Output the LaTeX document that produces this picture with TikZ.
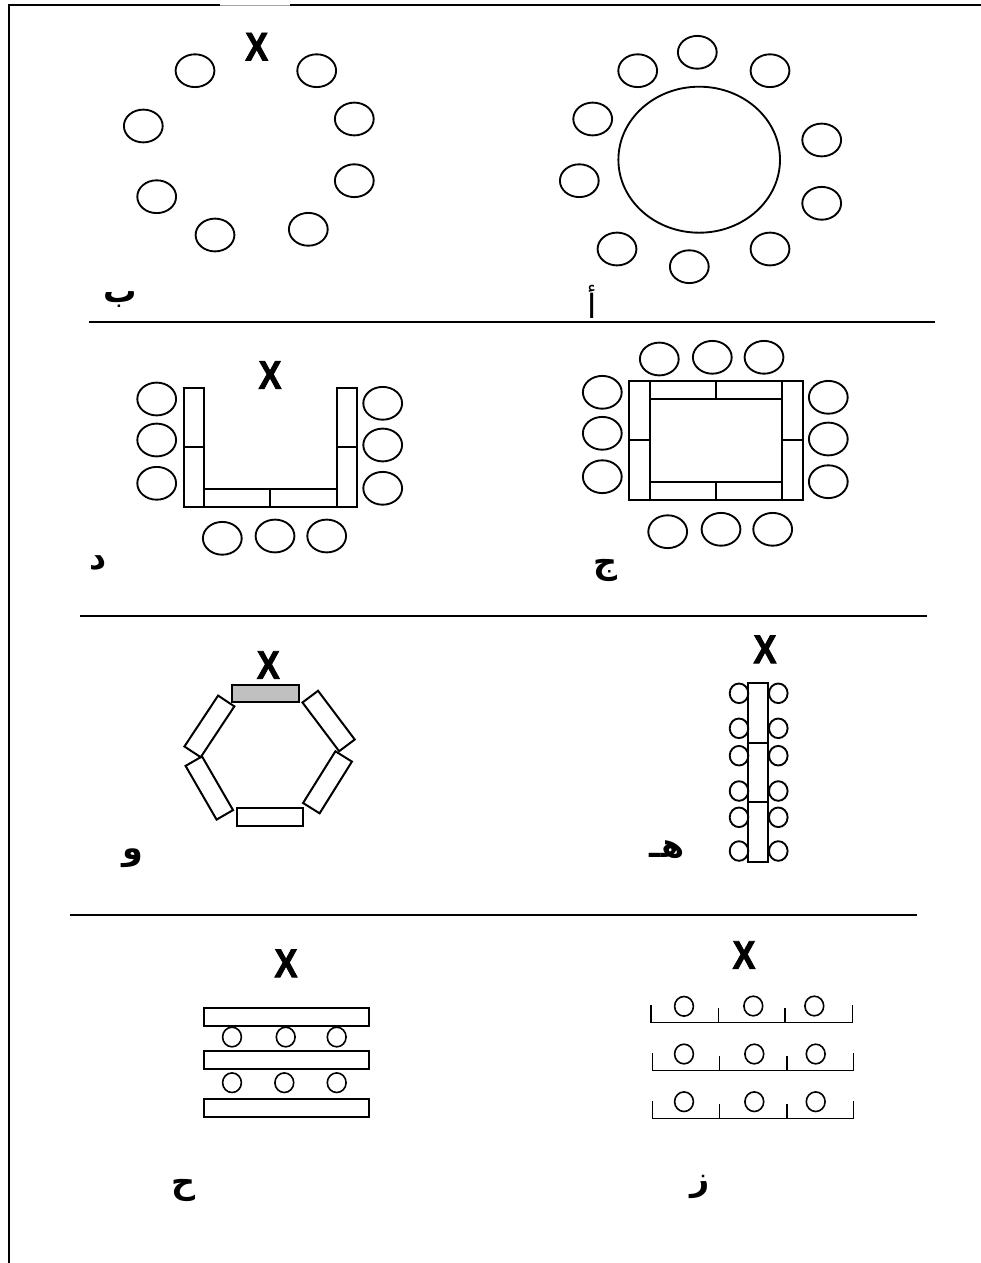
\documentclass[tikz,border=0pt]{standalone}
\usepackage{fontspec}
\usepackage{graphicx}
\setmainfont{Liberation Sans}
\newfontfamily\xfont[FakeBold=2.2]{Liberation Sans Bold}
\newfontfamily\arabicfont[Script=Arabic]{DejaVu Sans}
\TeXXeTstate=1
\definecolor{hexgray}{HTML}{C0C0C0}
\tikzset{
  seatline/.style={line width=1.4pt},
  tableline/.style={line width=1.5pt},
  thinline/.style={line width=1.2pt},
  sepline/.style={line width=1.5pt},
  xlabel/.style={inner sep=0pt, font=\xfont\fontsize{30pt}{30pt}\selectfont},
  arlabel/.style={inner sep=0pt, font=\arabicfont\bfseries\fontsize{25pt}{30pt}\selectfont}
}
\newcommand{\myseat}[2]{\draw[seatline] (#1,#2) ellipse [x radius=19.4, y radius=16.4];}
\newcommand{\mysmall}[2]{\draw[thinline] (#1,#2) ellipse [x radius=9.4, y radius=9.8];}
\newcommand{\myrow}[5]{% baseline, x0,x1,x2,x3
  \draw[thinline] (#2,#1-17) -- (#2,#1) -- (#5,#1) -- (#5,#1-17);
  \draw[thinline] (#3,#1-14) -- (#3,#1);
  \draw[thinline] (#4,#1-14) -- (#4,#1);
}
\begin{document}
\begin{tikzpicture}[x=0.75pt,y=-0.75pt]
\useasboundingbox (0,0) rectangle (981,1263);
% border
\draw[sepline] (9,1263) -- (9,5) -- (220,5);
\draw[line width=0.6pt, black!35] (220,5) -- (290,5);
\draw[sepline] (290,5) -- (981,5);
% separators
\draw[sepline] (89,322) -- (935,322);
\draw[sepline] (80,615.5) -- (927,615.5);
\draw[sepline] (70,915) -- (917,915);

% ---------- panel b (top left)
\node[xlabel] (xb) at (256.7,46.7) {\scalebox{0.86}[1]{X}};
\myseat{195}{70.7}
\myseat{316.7}{70.7}
\myseat{143.3}{126}
\myseat{354.3}{119}
\myseat{156.7}{196.7}
\myseat{354.3}{180.7}
\myseat{215}{235}
\myseat{308.3}{229.3}
\node[arlabel] (lb) at (120,300) {\beginR ب\endR};

% ---------- panel a (top right)
\draw[seatline] (699.2,159.7) ellipse [x radius=80.8, y radius=73];
\myseat{637.7}{70.7}
\myseat{697.3}{52.3}
\myseat{770}{70.7}
\myseat{592.7}{119}
\myseat{821.7}{140}
\myseat{579.3}{180.7}
\myseat{821.7}{203.3}
\myseat{617}{249}
\myseat{770}{249}
\myseat{689.3}{266.7}
\node[arlabel, font=\arabicfont\fontsize{25pt}{30pt}\selectfont] (la) at (591.7,301.7) {\beginR أ\endR};

% ---------- panel d (U shape)
\node[xlabel] (xd) at (270,375) {\scalebox{0.86}[1]{X}};
\draw[tableline] (184,387.7) rectangle (204,507.3);
\draw[tableline] (336.7,387.7) rectangle (356.7,507.3);
\draw[tableline] (204,489) rectangle (336.7,507.3);
\draw[tableline] (184,447) -- (204,447);
\draw[tableline] (336.7,447) -- (356.7,447);
\draw[tableline] (270,489) -- (270,507.3);
\myseat{156.7}{399}
\myseat{156.7}{440}
\myseat{156.7}{483.3}
\myseat{382.7}{403.3}
\myseat{382.7}{445}
\myseat{382.7}{488.3}
\myseat{222.3}{538.3}
\myseat{275}{536}
\myseat{326.7}{536}
\node[arlabel] (ld) at (98.3,563.3) {\beginR د\endR};

% ---------- panel j (rectangle)
\draw[tableline] (629.3,381) rectangle (802.7,500.3);
\draw[tableline] (650,381) -- (650,500.3);
\draw[tableline] (782.3,381) -- (782.3,500.3);
\draw[tableline] (650,399) -- (782.3,399);
\draw[tableline] (650,482) -- (782.3,482);
\draw[tableline] (716,381) -- (716,399);
\draw[tableline] (716,482) -- (716,500.3);
\draw[tableline] (629.3,440.3) -- (650,440.3);
\draw[tableline] (782.3,440.3) -- (802.7,440.3);
\myseat{659.3}{359}
\myseat{712.3}{357.3}
\myseat{764}{357.3}
\myseat{602.3}{392.3}
\myseat{602.3}{433.3}
\myseat{602.3}{476.7}
\myseat{828.3}{397.3}
\myseat{828.3}{439}
\myseat{828.3}{481.7}
\myseat{667.7}{531.7}
\myseat{721}{529.3}
\myseat{772.7}{529.3}
\node[arlabel] (lj) at (605.7,570) {\beginR ج\endR};

% ---------- panel w (hexagon)
\node[xlabel] (xw) at (268.3,665) {\scalebox{0.86}[1]{X}};
\draw[tableline, fill=hexgray] (232.3,685) rectangle (299.3,702.3);
\draw[tableline] (236.7,807.7) rectangle (303.3,826);
\node[draw, tableline, minimum width=61*0.75pt, minimum height=19.5*0.75pt, inner sep=0pt, rotate=56.5] (hul) at (209.4,726.4) {};
\node[draw, tableline, minimum width=61*0.75pt, minimum height=19.5*0.75pt, inner sep=0pt, rotate=-53] (hur) at (328.6,721) {};
\node[draw, tableline, minimum width=62*0.75pt, minimum height=19*0.75pt, inner sep=0pt, rotate=-60] (hll) at (209.3,788) {};
\node[draw, tableline, minimum width=61*0.75pt, minimum height=19.5*0.75pt, inner sep=0pt, rotate=58] (hlr) at (327.5,782.3) {};
\node[arlabel] (lw) at (133.3,858) {\beginR و\endR};

% ---------- panel h (long table)
\node[xlabel] (xh) at (765,649.3) {\scalebox{0.86}[1]{X}};
\draw[tableline] (748.3,682.7) rectangle (768.3,742.7);
\draw[tableline] (748.3,742.7) rectangle (768.3,802.3);
\draw[tableline] (748.3,802.3) rectangle (768.3,861.7);
\foreach \yy in {693.3,728.3,755.7,791,817.3,851}{
  \draw[seatline] (739,\yy) ellipse [x radius=9.3, y radius=9.8];
  \draw[seatline] (778.3,\yy) ellipse [x radius=9.3, y radius=9.8];
}
\node[arlabel] (lh) at (667,849.3) {\beginR هـ\endR};

% ---------- panel ha (rows of tables)
\node[xlabel] (xha) at (286,963.3) {\scalebox{0.86}[1]{X}};
\draw[tableline] (204,1007.7) rectangle (369.3,1026);
\draw[tableline] (204,1050.7) rectangle (369.3,1069);
\draw[tableline] (204,1099.3) rectangle (369.3,1117.3);
\mysmall{232}{1037}
\mysmall{285.7}{1037}
\mysmall{336.7}{1037}
\mysmall{232}{1082.7}
\mysmall{284.3}{1082.7}
\mysmall{336.7}{1082.7}
\node[arlabel] (lha) at (183.3,1190) {\beginR ح\endR};

% ---------- panel z (classroom)
\node[xlabel] (xz) at (744,955) {\scalebox{0.86}[1]{X}};
\myrow{1022.3}{651}{718.3}{785}{852.3}
\myrow{1070.3}{652.3}{719.3}{786.7}{853.3}
\myrow{1118.3}{652.3}{719.3}{786.7}{853.3}
\mysmall{684}{1006.3}
\mysmall{753.3}{1006}
\mysmall{814.3}{1006}
\mysmall{684}{1054}
\mysmall{754.3}{1054}
\mysmall{815.7}{1054}
\mysmall{684}{1101.7}
\mysmall{754.3}{1101.7}
\mysmall{815.7}{1101.7}
\node[arlabel] (lz) at (700,1187) {\beginR ز\endR};
\end{tikzpicture}
\end{document}
